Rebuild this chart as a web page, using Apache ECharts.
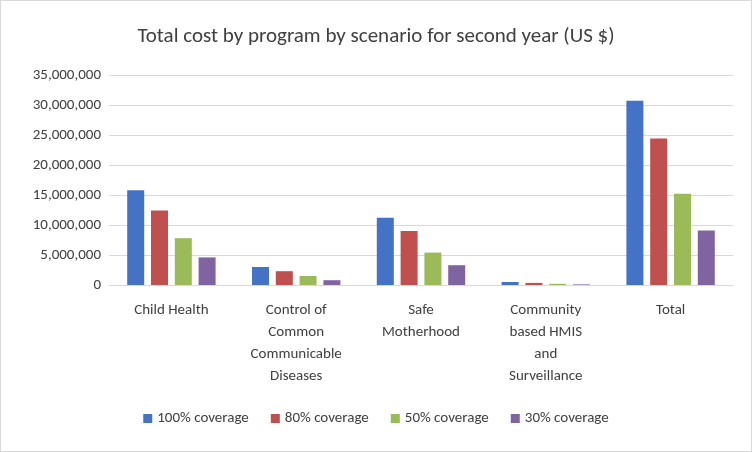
<!DOCTYPE html>
<html>
<head>
<meta charset="utf-8">
<script src="https://cdn.jsdelivr.net/npm/echarts@6/dist/echarts.min.js"></script>
<style>body{margin:0}#c{width:752px;height:452px;border:1px solid #d9d9d9;box-sizing:border-box}</style>
</head>
<body>
<div id="c"></div>
<script>
var categories = ['Child Health', 'Control of\nCommon\nCommunicable\nDiseases', 'Safe\nMotherhood', 'Community\nbased HMIS\nand\nSurveillance', 'Total'];
var cov100 = [15800000, 3000000, 11200000, 500000, 30700000];
var cov80 = [12400000, 2300000, 9000000, 350000, 24400000];
var cov50 = [7800000, 1500000, 5400000, 200000, 15200000];
var cov30 = [4600000, 800000, 3300000, 100000, 9100000];
var names = ['100% coverage', '80% coverage', '50% coverage', '30% coverage'];
var colors = ['#4472c4', '#c0504d', '#9bbb59', '#8064a2'];

var chart = echarts.init(document.getElementById('c'));
var font = 'Calibri, Carlito, "Open Sans", sans-serif';
chart.setOption({
  color: colors,
  textStyle: {fontFamily: font},
  title: {text: 'Total cost by program by scenario for second year (US $)', left: 'center', top: 20,
    textStyle: {fontSize: 21, fontWeight: 'normal', color: '#404040', fontFamily: font}},
  legend: {bottom: 20, itemWidth: 9, itemHeight: 9, itemGap: 22, icon: 'rect',
    textStyle: {fontSize: 15, color: '#404040'}, data: names},
  grid: {left: 108, right: 18, top: 74, bottom: 166},
  xAxis: {type: 'category', data: categories,
    axisLine: {lineStyle: {color: '#d9d9d9'}}, axisTick: {show: false},
    axisLabel: {fontSize: 15, color: '#404040', lineHeight: 22, margin: 14, interval: 0}},
  yAxis: {type: 'value', min: 0, max: 35000000, interval: 5000000,
    axisLabel: {fontSize: 15, color: '#404040', formatter: function (v) { return v.toLocaleString('en-US'); }},
    splitLine: {lineStyle: {color: '#d9d9d9'}}},
  series: [cov100, cov80, cov50, cov30].map(function (d, i) {
    return {name: names[i], type: 'bar', data: d, barWidth: 17, barGap: '40%'};
  })
});
</script>
</body>
</html>
